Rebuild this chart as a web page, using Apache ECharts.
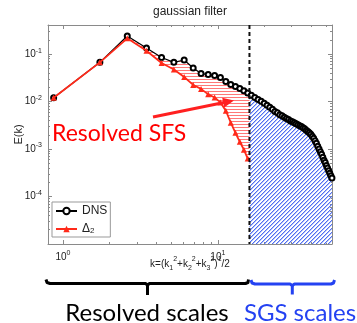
<!DOCTYPE html>
<html>
<head>
<meta charset="utf-8">
<script src="https://cdn.jsdelivr.net/npm/echarts@6/dist/echarts.min.js"></script>
<style>
  html, body { margin: 0; padding: 0; background: #fff; }
  #chart { width: 357px; height: 323px; }
</style>
</head>
<body>
<div id="chart"></div>
<script>
// wavenumber of each spectrum sample
const kValues = [0.87, 1.73, 2.6, 3.46, 4.33, 5.2, 6.06, 6.93, 7.79, 8.66, 9.53, 10.39, 11.26, 12.12, 12.99, 13.86,
  14.72, 15.59, 16.45, 17.32, 18.19, 19.05, 19.92, 20.78, 21.65, 22.52, 23.38, 24.25, 25.11, 25.98, 26.85, 27.71,
  28.58, 29.44, 30.31, 31.18, 32.04, 32.91, 33.77, 34.64, 35.51, 36.37, 37.24, 38.1, 38.97, 39.84, 40.7, 41.57,
  42.43, 43.3, 44.17, 45.03, 45.9, 46.76, 47.63, 48.5, 49.36, 50.23, 51.09, 51.96, 52.83, 53.69, 54.56]

// DNS energy spectrum E(k)
const dnsE = [0.012, 0.067, 0.24, 0.134, 0.085, 0.067, 0.075, 0.051, 0.039, 0.037, 0.0355, 0.0322, 0.0265, 0.023,
  0.0208, 0.0189, 0.0168, 0.0152, 0.0136, 0.0122, 0.0111, 0.0101, 0.0092, 0.0084, 0.0076, 0.0069, 0.0062, 0.0058,
  0.0053, 0.005, 0.0047, 0.0044, 0.0042, 0.0039, 0.00375, 0.00357, 0.0034, 0.00324, 0.00309, 0.00297, 0.0028,
  0.00267, 0.00248, 0.00234, 0.0022, 0.00205, 0.00186, 0.00169, 0.00149, 0.00132, 0.00115, 0.001, 0.00088, 0.00078,
  0.00067, 0.00058, 0.00052, 0.00045, 0.0004, 0.00035, 0.00031, 0.000275, 0.000246]

// filtered spectrum (Delta_2), only the resolved part
const delta2E = [0.012, 0.067, 0.215, 0.118, 0.065, 0.0474, 0.033, 0.0224, 0.0185, 0.0142, 0.0122, 0.0096, 0.0064,
  0.0036, 0.0022, 0.00142, 0.00097, 0.00063]

// filter cutoff and the curve values read at it
const cutoffK = 16
const dnsAtCutoff = 0.0145
const delta2AtCutoff = 0.00045

const xRange = [0.8, 54.6]
const yRange = [1e-5, 0.41]

// tick positions
const xMajor = [1, 10]
const yMajor = [1e-4, 1e-3, 1e-2, 1e-1]
const xMinor = [2, 3, 4, 5, 6, 7, 8, 9, 20, 30, 40, 50]
const yMinor = []
for (const d of [1e-5, 1e-4, 1e-3, 1e-2, 1e-1]) {
  for (let m = 2; m <= 9; m++) {
    if (m * d <= yRange[1]) yMinor.push(+(m * d).toPrecision(3))
  }
}

const FONT = '"Liberation Sans", Arial, sans-serif'
const RED = '#ff2a1a'
const BLUE = '#2442f2'
const AXIS_GRAY = '#8a8a8a'

// hatch tiles drawn pixel by pixel so the lines stay crisp
function hatchPattern(kind) {
  const c = document.createElement('canvas')
  const ctx = c.getContext('2d')
  if (kind === 'h') {
    c.width = 4
    c.height = 3
    ctx.fillStyle = '#ff7878'
    ctx.fillRect(0, 1, 4, 1)
  } else {
    c.width = 4
    c.height = 4
    for (let i = 0; i < 4; i++) {
      ctx.fillStyle = '#4f6ef2'
      ctx.fillRect(i, 3 - i, 1, 1)
      ctx.fillStyle = '#b4c2f8'
      ctx.fillRect((i + 1) % 4, 3 - i, 1, 1)
    }
  }
  return { image: c, repeat: 'repeat' }
}

const redHatch = hatchPattern('h')
const blueHatch = hatchPattern('d')

const dnsPts = kValues.map((k, i) => [k, dnsE[i]])
const d2Pts = delta2E.map((v, i) => [kValues[i], v])

// resolved SFS region: between DNS and Delta_2 up to the cutoff
const sfsPoly = dnsPts.filter(p => p[0] < cutoffK)
  .concat([[cutoffK, dnsAtCutoff], [cutoffK, delta2AtCutoff]])
  .concat(d2Pts.slice().reverse())

// SGS region: under DNS beyond the cutoff
const sgsPoly = [[cutoffK, yRange[0]], [cutoffK, dnsAtCutoff]]
  .concat(dnsPts.filter(p => p[0] > cutoffK))
  .concat([[kValues[kValues.length - 1], yRange[0]]])

function pow10Label(v) {
  const e = Math.round(Math.log10(v))
  return '{b|10}{s|' + e + '}'
}

const tickRich = {
  b: { fontSize: 10, fontFamily: FONT, color: '#222', lineHeight: 14 },
  s: { fontSize: 7, fontFamily: FONT, color: '#222', verticalAlign: 'top', lineHeight: 7 },
}

function xAxisDef(position, minor, showLabel) {
  return {
    type: 'log', logBase: 10, min: xRange[0], max: xRange[1], position: position,
    axisLine: { show: !minor, onZero: false, lineStyle: { color: AXIS_GRAY, width: 1 } },
    axisTick: { show: true, inside: true, length: minor ? 2 : 4, customValues: minor ? xMinor : xMajor,
      lineStyle: { color: AXIS_GRAY } },
    axisLabel: { show: showLabel, customValues: xMajor, formatter: pow10Label, rich: tickRich, margin: 6 },
    splitLine: { show: false },
    minorTick: { show: false },
  }
}

function yAxisDef(position, minor, showLabel) {
  return {
    type: 'log', logBase: 10, min: yRange[0], max: yRange[1], position: position,
    axisLine: { show: !minor, onZero: false, lineStyle: { color: AXIS_GRAY, width: 1 } },
    axisTick: { show: true, inside: true, length: minor ? 2 : 4, customValues: minor ? yMinor : yMajor,
      lineStyle: { color: AXIS_GRAY } },
    axisLabel: { show: showLabel, customValues: yMajor, formatter: pow10Label, rich: tickRich, margin: 6 },
    splitLine: { show: false },
    minorTick: { show: false },
  }
}

const xMain = xAxisDef('bottom', false, true)
xMain.name = 'k=(k{sub|1}{sup|2}+k{sub|2}{sup|2}+k{sub|3}{sup|2}){sup|1}/2'
xMain.nameLocation = 'middle'
xMain.nameGap = 12
xMain.nameMoveOverlap = false
xMain.nameTextStyle = {
  fontSize: 10, fontFamily: FONT, color: '#222', lineHeight: 16,
  rich: {
    sub: { fontSize: 7, fontFamily: FONT, color: '#222', verticalAlign: 'bottom', lineHeight: 7 },
    sup: { fontSize: 7, fontFamily: FONT, color: '#222', verticalAlign: 'top', lineHeight: 7 },
  },
}

const yMain = yAxisDef('left', false, true)
yMain.name = 'E(k)'
yMain.nameLocation = 'middle'
yMain.nameGap = 24
yMain.nameMoveOverlap = false
yMain.nameTextStyle = { fontSize: 11, fontFamily: FONT, color: '#222' }

const chart = echarts.init(document.getElementById('chart'), null, { renderer: 'canvas' })

const option = {
  animation: false,
  backgroundColor: '#ffffff',
  title: {
    text: 'gaussian filter', left: 190, top: 6, padding: 0, textAlign: 'center',
    textStyle: { fontSize: 12, fontWeight: 'normal', fontFamily: FONT, color: '#222' },
  },
  grid: { left: 48, right: 25, top: 25, bottom: 79, containLabel: false, outerBoundsMode: 'none' },
  legend: {
    data: ['DNS', 'Δ2'],
    orient: 'vertical', left: 52, top: 202,
    backgroundColor: '#fff', borderColor: '#999', borderWidth: 1, borderRadius: 0,
    padding: [3, 3, 2, 3], itemWidth: 21, itemHeight: 8, itemGap: 6,
    textStyle: { fontSize: 12, fontFamily: FONT, color: '#222', rich: {
      sub: { fontSize: 8, fontFamily: FONT, color: '#222', verticalAlign: 'bottom', lineHeight: 8 },
    } },
    formatter: name => (name === 'Δ2' ? 'Δ{sub|2}' : name),
  },
  xAxis: [xMain, xAxisDef('bottom', true, false), xAxisDef('top', false, false), xAxisDef('top', true, false)],
  yAxis: [yMain, yAxisDef('left', true, false), yAxisDef('right', false, false), yAxisDef('right', true, false)],
  series: [
    {
      name: 'sfs', type: 'custom', z: 1, silent: true,
      data: [[cutoffK, dnsAtCutoff]],
      renderItem: (params, api) => ({
        type: 'polygon',
        shape: { points: sfsPoly.map(p => api.coord(p)) },
        style: { fill: redHatch, stroke: null },
      }),
    },
    {
      name: 'sgs', type: 'custom', z: 1, silent: true,
      data: [[cutoffK, dnsAtCutoff]],
      renderItem: (params, api) => ({
        type: 'polygon',
        shape: { points: sgsPoly.map(p => api.coord(p)) },
        style: { fill: blueHatch, stroke: null },
      }),
    },
    {
      name: 'DNS', type: 'line', z: 2,
      data: dnsPts,
      symbol: 'emptyCircle', symbolSize: 5,
      lineStyle: { color: '#000', width: 1.2 },
      itemStyle: { color: '#000', borderColor: '#000', borderWidth: 0.8 },
    },
    {
      name: 'Δ2', type: 'line', z: 3,
      data: d2Pts,
      symbol: 'triangle', symbolSize: 6,
      lineStyle: { color: RED, width: 1.8 },
      itemStyle: { color: RED },
    },
    {
      name: 'cutoff', type: 'custom', z: 4, silent: true,
      data: [[cutoffK, dnsAtCutoff]],
      renderItem: (params, api) => {
        const a = api.coord([cutoffK, yRange[1]])
        const b = api.coord([cutoffK, yRange[0]])
        return {
          type: 'line',
          shape: { x1: a[0], y1: a[1], x2: b[0], y2: b[1] },
          style: { stroke: '#111', lineWidth: 2, lineDash: [4, 3] },
        }
      },
    },
  ],
  graphic: [
    {
      type: 'text', z: 100,
      style: { text: 'Resolved SFS', x: 52, y: 134, verticalAlign: 'middle', fill: '#ff0000',
        font: '23px Lato, "Open Sans", sans-serif' },
    },
    {
      type: 'polyline', z: 100,
      shape: { points: [[153, 117], [224, 102.5]] },
      style: { stroke: '#ff2020', lineWidth: 3, fill: null },
    },
    {
      type: 'polygon', z: 100,
      shape: { points: [[234, 100.5], [224.2, 107.6], [222.2, 97.8]] },
      style: { fill: '#ff2020' },
    },
    {
      type: 'polyline', z: 100,
      shape: { points: [[46, 279.5], [47, 282.5], [50, 283.5], [145.5, 283.5], [147.5, 285], [149.5, 283.5],
        [245.5, 283.5], [248, 282.5], [248.5, 279.5]] },
      style: { stroke: '#000', lineWidth: 3, fill: null, lineJoin: 'round' },
    },
    {
      type: 'line', z: 100,
      shape: { x1: 147.5, y1: 284, x2: 147.5, y2: 295 },
      style: { stroke: '#000', lineWidth: 3 },
    },
    {
      type: 'polyline', z: 100,
      shape: { points: [[251, 280], [252, 283], [255, 284], [290, 284], [292.3, 285.5], [294.5, 284],
        [331, 284], [333.5, 283], [334.5, 280]] },
      style: { stroke: BLUE, lineWidth: 3, fill: null, lineJoin: 'round' },
    },
    {
      type: 'line', z: 100,
      shape: { x1: 292.3, y1: 284, x2: 292.3, y2: 294.5 },
      style: { stroke: BLUE, lineWidth: 3 },
    },
    {
      type: 'text', z: 100,
      style: { text: 'Resolved scales', x: 147, y: 313, align: 'center', verticalAlign: 'middle', fill: '#000',
        font: '24px Lato, "Open Sans", sans-serif' },
    },
    {
      type: 'text', z: 100,
      style: { text: 'SGS scales', x: 300, y: 313, align: 'center', verticalAlign: 'middle', fill: BLUE,
        font: '24px Lato, "Open Sans", sans-serif' },
    },
  ],
}

chart.setOption(option)
</script>
</body>
</html>
